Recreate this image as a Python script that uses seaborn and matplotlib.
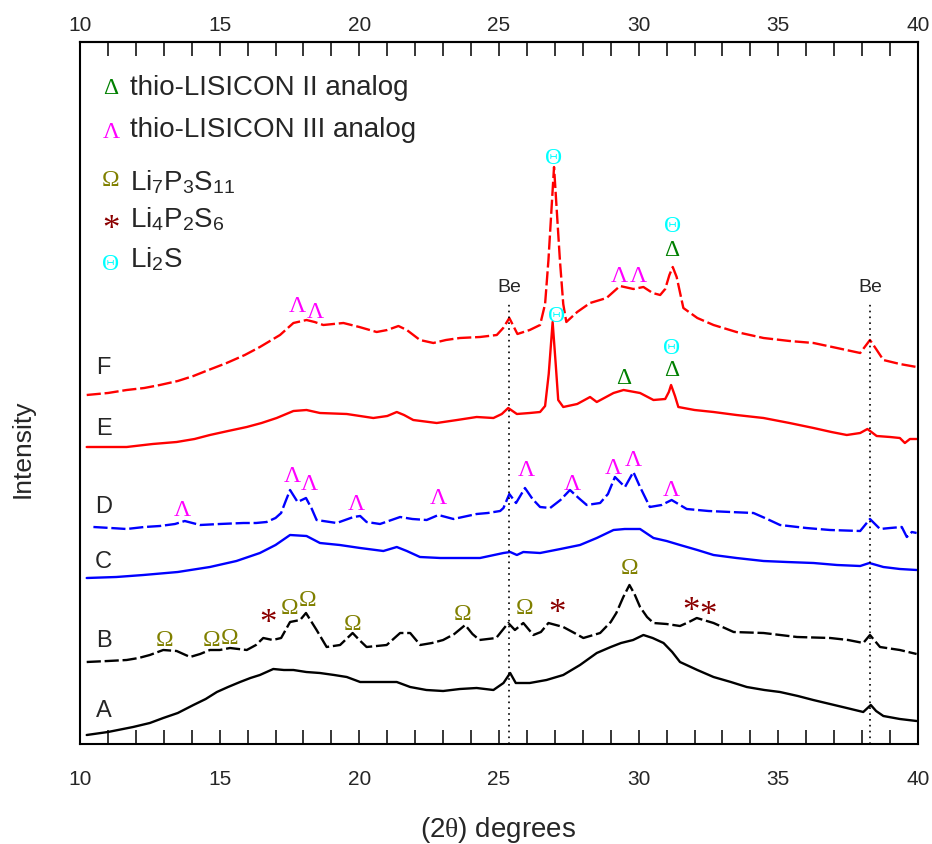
import numpy as np
import pandas as pd
import matplotlib.pyplot as plt
import seaborn as sns

# XRD traces: 2theta (deg) and offset intensity (a.u.)
a_x = [10.24, 11.0, 11.9, 12.5, 12.98, 13.5, 14.06, 14.5, 14.9, 15.3, 15.73, 16.1, 16.44, 16.92, 17.3, 17.64,
       18.1, 18.59, 19.1, 19.55, 20.03, 20.6, 21.34, 21.82, 22.4, 23.0, 23.6, 24.2, 24.8, 25.16, 25.4, 25.6,
       26.1, 26.7, 27.3, 27.9, 28.5, 29.0, 29.37, 29.8, 30.17, 30.5, 30.89, 31.2, 31.48, 32.1, 32.68, 33.3,
       33.87, 34.5, 35.06, 35.7, 36.25, 36.85, 37.45, 38.04, 38.31, 38.5, 38.76, 39.35, 39.95]
a_y = [9, 12, 17, 21, 26, 31, 39, 45, 52, 57, 62, 66, 69, 75, 74, 74,
       72, 71, 69, 67, 62, 62, 62, 57, 54, 53, 55, 56, 54, 61, 71, 61,
       61, 64, 69, 79, 91, 97, 101, 104, 109, 106, 101, 92, 82, 74, 67, 62,
       57, 54, 52, 48, 44, 40, 36, 32, 39, 33, 28, 25, 23]

b_x = [10.24, 11.0, 11.67, 12.1, 12.5, 12.98, 13.46, 13.94, 14.3, 14.65, 15.0, 15.37, 15.97, 16.3, 16.56,
       16.9, 17.2, 17.52, 17.88, 18.09, 18.47, 18.83, 19.31, 19.76, 20.0, 20.26, 20.98, 21.46, 21.82, 22.18,
       22.6, 23.0, 23.4, 23.79, 24.05, 24.3, 24.9, 25.33, 25.57, 25.87, 26.23, 26.5, 26.77, 27.3, 27.7,
       28.02, 28.62, 29.0, 29.2, 29.45, 29.67, 29.85, 30.05, 30.3, 30.53, 31.0, 31.48, 31.8, 32.08, 32.68,
       33.4, 34.47, 35.67, 36.86, 37.5, 38.04, 38.28, 38.64, 39.35, 39.95]
b_y = [82, 83, 84, 86, 89, 94, 93, 87, 90, 94, 94, 96, 94, 99, 106,
       104, 106, 122, 124, 131, 114, 97, 99, 111, 104, 97, 99, 111, 111, 99,
       101, 104, 110, 119, 110, 104, 106, 121, 114, 121, 109, 112, 121, 117, 111,
       106, 111, 122, 131, 147, 159, 150, 137, 127, 121, 120, 118, 122, 126, 121,
       112, 111, 107, 106, 104, 101, 109, 97, 94, 90]

c_x = [10.24, 11.3, 12.27, 13.5, 14.65, 15.6, 16.44, 17.0, 17.52, 18.11, 18.59, 19.3, 20.03, 20.86, 21.34,
       21.7, 22.17, 22.9, 23.6, 24.32, 25.16, 25.4, 25.64, 25.87, 26.47, 27.2, 27.9, 28.5, 29.1, 29.5,
       30.05, 30.53, 31.0, 31.48, 32.1, 32.68, 33.5, 34.47, 35.3, 36.26, 37.1, 37.93, 38.26, 38.76, 39.35, 39.95]
c_y = [166, 167, 169, 172, 177, 183, 191, 199, 209, 208, 201, 199, 196, 193, 197,
       193, 187, 186, 186, 186, 191, 192, 189, 192, 191, 195, 199, 206, 214, 215,
       215, 206, 203, 199, 194, 189, 186, 183, 182, 181, 179, 178, 181, 177, 175, 174]

d_x = [10.48, 11.1, 11.67, 12.3, 12.86, 13.4, 13.75, 14.3, 15.0, 15.85, 16.3, 16.68, 17.0, 17.2, 17.35,
       17.52, 17.79, 18.09, 18.3, 18.47, 19.19, 19.79, 20.03, 20.26, 20.74, 21.46, 21.9, 22.41, 22.83, 23.37,
       24.2, 24.6, 25.04, 25.16, 25.37, 25.61, 25.93, 26.2, 26.47, 26.83, 27.2, 27.54, 27.85, 28.14, 28.62,
       28.9, 29.15, 29.51, 29.81, 30.05, 30.4, 30.82, 31.18, 31.72, 32.5, 33.28, 34.11, 34.6, 35.06, 36.0,
       36.85, 37.93, 38.28, 38.64, 39.0, 39.42, 39.6, 39.78, 39.95]
d_y = [217, 216, 215, 217, 218, 220, 223, 219, 220, 221, 221, 222, 226, 231, 242,
       254, 242, 246, 235, 224, 221, 227, 228, 222, 220, 227, 225, 224, 229, 225,
       230, 231, 233, 236, 250, 241, 256, 245, 237, 236, 244, 254, 246, 239, 241,
       250, 267, 257, 272, 257, 237, 239, 244, 235, 233, 232, 231, 225, 219, 216,
       214, 213, 225, 215, 216, 217, 207, 212, 211]

e_x = [10.24, 11.0, 11.67, 12.6, 13.46, 14.1, 14.65, 15.3, 15.97, 16.5, 17.04, 17.64, 18.11, 18.59, 19.55,
       20.5, 21.0, 21.34, 21.6, 21.93, 22.77, 23.5, 24.2, 24.8, 25.1, 25.33, 25.64, 26.1, 26.47, 26.65,
       26.78, 26.92, 27.03, 27.12, 27.3, 27.8, 28.26, 28.5, 29.1, 29.46, 30.05, 30.53, 30.95, 31.08, 31.16,
       31.3, 31.42, 32.0, 32.68, 33.5, 34.47, 35.4, 36.26, 36.9, 37.45, 37.93, 38.19, 38.52, 39.0, 39.35,
       39.53, 39.71, 39.95]
e_y = [297, 297, 297, 300, 302, 305, 309, 313, 317, 321, 326, 333, 334, 331, 330,
       326, 328, 332, 329, 324, 321, 324, 327, 326, 330, 336, 330, 331, 332, 338,
       370, 422, 380, 344, 337, 340, 347, 342, 351, 354, 351, 344, 345, 352, 359,
       348, 337, 334, 332, 329, 326, 321, 316, 312, 309, 311, 315, 308, 307, 306,
       301, 305, 305]

f_x = [10.24, 11.0, 11.67, 12.3, 12.86, 13.5, 14.06, 14.6, 15.25, 15.9, 16.44, 16.8, 17.16, 17.64, 18.11,
       18.4, 18.71, 19.43, 20.0, 20.62, 21.0, 21.4, 21.7, 22.17, 22.65, 23.1, 23.6, 24.32, 24.92, 25.15,
       25.37, 25.66, 26.1, 26.47, 26.65, 26.77, 26.97, 27.18, 27.3, 27.41, 27.8, 28.26, 28.85, 29.33, 29.81,
       30.17, 30.5, 30.77, 30.95, 31.1, 31.22, 31.36, 31.6, 32.1, 32.68, 33.5, 34.47, 35.4, 36.26, 37.1,
       37.93, 38.28, 38.5, 38.76, 39.35, 39.95]
f_y = [349, 351, 354, 356, 359, 363, 368, 374, 381, 389, 397, 403, 409, 421, 424,
       422, 419, 421, 417, 412, 414, 418, 414, 404, 401, 404, 406, 407, 409, 416,
       426, 410, 414, 419, 440, 484, 577, 484, 440, 422, 432, 441, 446, 458, 455,
       457, 451, 449, 455, 469, 477, 467, 436, 426, 419, 412, 406, 403, 401, 396,
       391, 404, 395, 384, 380, 377]

trace_names = ['A', 'B', 'C', 'D', 'E', 'F']
trace_label_y = [35, 105, 184, 239, 317, 378]

# Be reference lines
be_pos = [25.37, 38.28]

# phase markers: (2theta, height, symbol)
phase_marks = [
    (17.79, 439, 'Λ'), (18.41, 434, 'Λ'), (26.97, 587, 'Θ'), (29.31, 469, 'Λ'), (29.99, 469, 'Λ'),
    (31.22, 520, 'Θ'), (31.18, 496, 'Δ'),
    (27.05, 429, 'Θ'), (29.48, 367, 'Δ'), (31.16, 397, 'Θ'), (31.18, 375, 'Δ'),
    (13.65, 236, 'Λ'), (17.6, 269, 'Λ'), (18.2, 261, 'Λ'), (19.9, 242, 'Λ'), (22.84, 248, 'Λ'),
    (25.97, 275, 'Λ'), (27.63, 262, 'Λ'), (29.1, 277, 'Λ'), (29.8, 286, 'Λ'), (31.16, 256, 'Λ'),
    (13.03, 106, 'Ω'), (14.71, 106, 'Ω'), (15.34, 108, 'Ω'), (16.74, 129, '*'), (17.52, 137, 'Ω'),
    (18.14, 146, 'Ω'), (19.76, 121, 'Ω'), (23.7, 131, 'Ω'), (25.93, 137, 'Ω'), (27.06, 140, '*'),
    (29.66, 177, 'Ω'), (31.87, 141, '*'), (32.48, 137, '*'),
]

legend_syms = ['Δ', 'Λ', 'Ω', '*', 'Θ']
legend_text = ['thio-LISICON II analog', 'thio-LISICON III analog',
               r'Li$_{7}$P$_{3}$S$_{11}$', r'Li$_{4}$P$_{2}$S$_{6}$', r'Li$_{2}$S']

sym_color = {'Δ': 'green', 'Λ': 'magenta', 'Ω': 'olive', '*': '#8b0000', 'Θ': 'cyan'}
major_ticks = list(range(10, 41, 5))
minor_ticks = list(range(10, 41))

sns.set_theme(style='ticks')
plt.rcParams['font.family'] = ['Liberation Sans', 'DejaVu Sans']
plt.rcParams['mathtext.fontset'] = 'custom'
plt.rcParams['mathtext.rm'] = 'Liberation Sans'
plt.rcParams['mathtext.it'] = 'Liberation Serif'

fig = plt.figure(figsize=(9.32, 8.44), dpi=100)
ax = fig.add_axes([80 / 932, 1 - 744 / 844, 838 / 932, 702 / 844])

dash = (0, (6, 1.6))
traces = [(a_x, a_y, 'black', '-'), (b_x, b_y, 'black', dash),
          (c_x, c_y, 'blue', '-'), (d_x, d_y, 'blue', dash),
          (e_x, e_y, 'red', '-'), (f_x, f_y, 'red', dash)]
for x, y, col, ls in traces:
    df = pd.DataFrame({'two_theta': x, 'intensity': y})
    sns.lineplot(data=df, x='two_theta', y='intensity', color=col, lw=1.7, linestyle=ls, ax=ax)

ax.vlines(be_pos, 0, 441, colors='black', linestyles=(0, (1, 2.5)), lw=1.2)
for bx in be_pos:
    ax.text(bx, 457, 'Be', ha='center', va='center', fontsize=14)

for name, ly in zip(trace_names, trace_label_y):
    ax.text(10.85, ly - 2, name, ha='center', va='center', fontsize=17)


def sym_style(s):
    # asterisks sit high in the font, so they need a bigger size and a shift down
    if s == '*':
        return 25, 10
    return 17, 2


for mx, my, s in phase_marks:
    size, off = sym_style(s)
    ax.text(mx, my - off, s, color=sym_color[s], family='Liberation Serif', fontsize=size,
            ha='center', va='center')

# legend drawn as text
leg_sym_y = [657, 613, 566, 524, 482]
leg_txt_y = [649, 607, 554, 517, 477]
for s, t, sy, ty in zip(legend_syms, legend_text, leg_sym_y, leg_txt_y):
    size, off = sym_style(s)
    ax.text(11.11, sy - off, s, color=sym_color[s], family='Liberation Serif', fontsize=size,
            ha='center', va='center')
    ax.text(11.79, ty, t, ha='left', va='baseline', fontsize=20)

ax.set_xlim(10, 40)
ax.set_ylim(0, 702)
ax.set_yticks([])
ax.set_xlabel('')
ax.set_ylabel('')
ax.set_xticks(major_ticks)
ax.set_xticks(minor_ticks, minor=True)
ax.tick_params(axis='x', which='both', direction='in', bottom=True, top=False, length=10, width=1.3,
               labelsize=15, pad=19)

top = ax.secondary_xaxis('top')
top.set_xticks(major_ticks)
top.set_xticks(minor_ticks, minor=True)
top.tick_params(axis='x', which='both', direction='in', length=10, width=1.3, labelsize=15, pad=5)
top.spines['top'].set_linewidth(1.5)

for sp in ax.spines.values():
    sp.set_linewidth(1.5)
    sp.set_color('black')

fig.text(498 / 932, 1 - 830 / 844, r'(2$\theta$) degrees', ha='center', va='center', fontsize=20)
fig.text(23 / 932, 1 - 449 / 844, 'Intensity', rotation=90, ha='center', va='center', fontsize=19)

fig.savefig('out.png', dpi=100)
